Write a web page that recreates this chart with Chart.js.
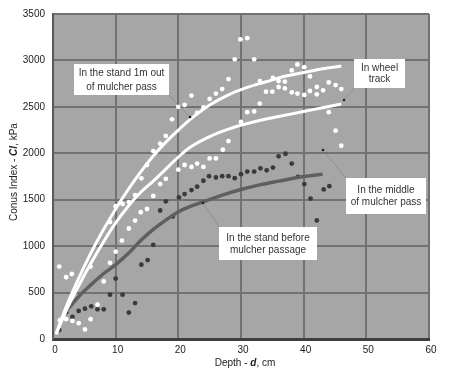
<!DOCTYPE html>
<html>
<head>
<meta charset="utf-8">
<script src="https://cdn.jsdelivr.net/npm/chart.js@4/dist/chart.umd.min.js"></script>
<style>
  html, body { margin: 0; padding: 0; background: #fff; }
  #wrap { width: 450px; height: 373px; }
</style>
</head>
<body>
<div id="wrap"><canvas id="grafico" width="450" height="373"></canvas></div>
<script>
// Pontos medidos (profundidade em cm, CI em kPa)
const depthOut = [1.0, 2.1, 3.0, 6.0, 9.1, 9.1, 10.0, 11.1, 12.1, 13.1, 14.1, 15.0, 16.0, 17.1, 18.0, 19.0, 20.0, 21.0, 22.1, 23.0, 24.0, 25.0, 26.0, 27.0, 28.0, 29.0, 29.9, 31.0, 32.1, 33.0, 35.1, 36.0, 37.0, 38.1, 39.0, 40.1, 41.0, 42.1, 44.0, 45.1, 46.0];
const ciOut = [780, 665, 700, 780, 820, 1260, 1430, 1455, 1475, 1550, 1730, 1874, 2024, 2105, 2187, 2366, 2500, 2521, 2621, 2436, 2493, 2585, 2643, 2692, 2799, 3012, 3226, 3240, 3012, 2778, 2813, 2778, 2771, 2892, 2956, 2927, 2828, 2714, 2763, 2735, 2692];

const depthWheel = [1.1, 2.1, 3.1, 4.1, 5.1, 6.0, 7.1, 8.1, 10.0, 11.0, 12.1, 13.1, 14.0, 15.0, 16.0, 17.1, 18.0, 20.0, 21.0, 22.1, 23.0, 24.0, 25.0, 26.0, 27.1, 28.0, 30.0, 31.0, 32.1, 33.0, 34.0, 35.0, 36.0, 37.0, 38.1, 39.0, 40.1, 41.0, 42.1, 43.1, 44.0, 45.1, 46.0];
const ciWheel = [203, 213, 195, 170, 103, 213, 370, 620, 940, 1060, 1190, 1275, 1365, 1400, 1540, 1668, 1725, 1824, 1874, 1853, 1889, 1853, 1945, 1945, 2038, 2131, 2337, 2443, 2451, 2535, 2664, 2664, 2714, 2700, 2657, 2643, 2628, 2671, 2635, 2678, 2443, 2244, 2081];

const depthMiddle = [1.0, 2.1, 3.1, 4.1, 5.1, 6.1, 7.1, 8.1, 9.1, 10.0, 11.1, 12.1, 13.1, 14.1, 15.1, 16.0, 17.1, 18.0, 19.1, 20.1, 21.0, 22.1, 23.0, 24.0, 24.9, 26.0, 27.0, 28.0, 29.0, 30.0, 31.0, 32.1, 33.1, 34.1, 35.1, 36.0, 37.1, 38.1, 39.1, 40.1, 41.1, 42.1, 43.2, 44.1];
const ciMiddle = [96, 288, 238, 302, 327, 352, 320, 320, 477, 651, 477, 285, 387, 800, 850, 1014, 1384, 1483, 1320, 1526, 1561, 1604, 1640, 1704, 1753, 1739, 1753, 1753, 1732, 1775, 1803, 1803, 1838, 1817, 1846, 1967, 1995, 1889, 1747, 1668, 1512, 1277, 1611, 1646];

// Curvas ajustadas
const curveOutX = [0.5, 2, 4, 6, 8, 10, 12, 14, 16, 18, 20, 22, 25, 28, 31, 34, 37, 40, 43, 46];
const curveOutY = [60, 330, 640, 920, 1170, 1400, 1610, 1800, 1970, 2120, 2250, 2370, 2520, 2630, 2710, 2770, 2830, 2870, 2910, 2940];
const curveWheelX = [0.5, 2, 4, 6, 8, 10, 12, 14, 16, 18, 20, 22, 25, 28, 31, 34, 37, 40, 43, 46];
const curveWheelY = [50, 290, 560, 810, 1040, 1250, 1430, 1580, 1700, 1830, 1960, 2070, 2180, 2260, 2320, 2370, 2410, 2450, 2490, 2530];
const curveBeforeX = [1.5, 4, 6, 8, 10, 12, 14, 16, 18, 20, 22, 24, 27, 30, 33, 36, 40, 43];
const curveBeforeY = [250, 450, 580, 700, 800, 920, 1060, 1180, 1280, 1370, 1430, 1480, 1550, 1610, 1660, 1700, 1750, 1775];

// Ticks
const xTicks = [0, 10, 20, 30, 40, 50, 60];
const yTicks = [0, 500, 1000, 1500, 2000, 2500, 3000, 3500];

const toPts = (xs, ys) => xs.map((x, i) => ({ x: x, y: ys[i] }));
const FONT = '"Liberation Sans", Arial, sans-serif';

// fundo cinza da área do gráfico
const fundo = {
  id: 'fundo',
  beforeDraw(chart) {
    const { ctx, chartArea: a } = chart;
    ctx.save();
    ctx.fillStyle = '#a6a6a6';
    ctx.fillRect(a.left, a.top, a.right - a.left, a.bottom - a.top);
    ctx.restore();
  }
};

// caixas de texto, setas e títulos dos eixos
const notas = {
  id: 'notas',
  afterDraw(chart) {
    const { ctx } = chart;
    ctx.save();
    // setas finas
    const setas = [
      [169, 95, 190, 117],
      [354, 88, 344, 100],
      [346, 178, 323, 150],
      [219, 227, 203, 203]
    ];
    ctx.strokeStyle = 'rgba(80,80,80,0.25)';
    ctx.lineWidth = 1;
    setas.forEach(s => {
      ctx.beginPath();
      ctx.moveTo(s[0], s[1]);
      ctx.lineTo(s[2], s[3]);
      ctx.stroke();
      ctx.fillStyle = '#222';
      ctx.beginPath();
      ctx.arc(s[2], s[3], 1.3, 0, Math.PI * 2);
      ctx.fill();
    });

    const caixas = [
      { r: [74, 64, 95, 31], t: ['In the stand 1m out', 'of mulcher pass'], y: [73, 87] },
      { r: [354, 59, 51, 29], t: ['In wheel', 'track'], y: [68, 79] },
      { r: [346, 178, 80, 36], t: ['In the middle', 'of mulcher pass'], y: [190, 202] },
      { r: [219, 227, 98, 33], t: ['In the stand before', 'mulcher passage'], y: [238, 250] }
    ];
    caixas.forEach(c => {
      ctx.fillStyle = '#ffffff';
      ctx.fillRect(c.r[0], c.r[1], c.r[2], c.r[3]);
      ctx.fillStyle = '#333';
      ctx.font = '10px ' + FONT;
      ctx.textAlign = 'center';
      ctx.textBaseline = 'middle';
      c.t.forEach((linha, i) => ctx.fillText(linha, c.r[0] + c.r[2] / 2, c.y[i]));
    });

    // título eixo x: "Depth - d, cm"
    const partesX = [['Depth - ', '10px '], ['d', 'italic bold 10px '], [', cm', '10px ']];
    desenhaPartes(ctx, partesX, 245, 363);

    // título eixo y: "Conus Index - CI, kPa"
    ctx.save();
    ctx.translate(14, 172);
    ctx.rotate(-Math.PI / 2);
    const partesY = [['Conus Index - ', '10px '], ['CI', 'italic bold 10px '], [', kPa', '10px ']];
    desenhaPartes(ctx, partesY, 0, 0);
    ctx.restore();
    ctx.restore();
  }
};

function desenhaPartes(ctx, partes, cx, cy) {
  let total = 0;
  partes.forEach(p => { ctx.font = p[1] + FONT; total += ctx.measureText(p[0]).width; });
  let x = cx - total / 2;
  ctx.fillStyle = '#222';
  ctx.textAlign = 'left';
  ctx.textBaseline = 'middle';
  partes.forEach(p => {
    ctx.font = p[1] + FONT;
    ctx.fillText(p[0], x, cy);
    x += ctx.measureText(p[0]).width;
  });
}

const ctx = document.getElementById('grafico').getContext('2d');

new Chart(ctx, {
  type: 'scatter',
  data: {
    datasets: [
      {
        label: 'In the stand 1m out of mulcher pass (curve)',
        data: toPts(curveOutX, curveOutY),
        showLine: true, borderColor: '#ffffff', borderWidth: 3,
        pointRadius: 0, cubicInterpolationMode: 'monotone'
      },
      {
        label: 'In wheel track (curve)',
        data: toPts(curveWheelX, curveWheelY),
        showLine: true, borderColor: '#ffffff', borderWidth: 3,
        pointRadius: 0, cubicInterpolationMode: 'monotone'
      },
      {
        label: 'In the stand before mulcher passage (curve)',
        data: toPts(curveBeforeX, curveBeforeY),
        showLine: true, borderColor: '#5f5f5f', borderWidth: 3.5,
        pointRadius: 0, cubicInterpolationMode: 'monotone'
      },
      {
        label: 'In the stand 1m out of mulcher pass',
        data: toPts(depthOut, ciOut),
        backgroundColor: '#ffffff', borderWidth: 0, pointRadius: 2.4
      },
      {
        label: 'In wheel track',
        data: toPts(depthWheel, ciWheel),
        backgroundColor: '#ffffff', borderWidth: 0, pointRadius: 2.4
      },
      {
        label: 'In the middle of mulcher pass',
        data: toPts(depthMiddle, ciMiddle),
        backgroundColor: '#3a3a3a', borderWidth: 0, pointRadius: 2.4
      }
    ]
  },
  options: {
    responsive: false,
    animation: false,
    layout: { padding: { top: 11, right: 21, left: 0, bottom: 0 } },
    plugins: {
      legend: { display: false },
      tooltip: { enabled: false }
    },
    scales: {
      x: {
        type: 'linear', min: 0, max: 60,
        afterFit: s => { s.height = 34; },
        afterBuildTicks: s => { s.ticks = xTicks.map(v => ({ value: v })); },
        ticks: { color: '#222', font: { family: FONT, size: 10 }, padding: 5, labelOffset: 2, maxRotation: 0, callback: v => String(v) },
        grid: { color: '#727272', lineWidth: 2, drawTicks: false },
        border: { color: '#3e3e3e', width: 3 }
      },
      y: {
        type: 'linear', min: 0, max: 3500,
        afterFit: s => { s.width = 53; },
        afterBuildTicks: s => { s.ticks = yTicks.map(v => ({ value: v })); },
        ticks: { color: '#222', font: { family: FONT, size: 10 }, padding: 8, callback: v => String(v) },
        grid: { color: '#727272', lineWidth: 2, drawTicks: false },
        border: { color: '#5a5a5a', width: 2 }
      }
    }
  },
  plugins: [fundo, notas]
});
</script>
</body>
</html>
